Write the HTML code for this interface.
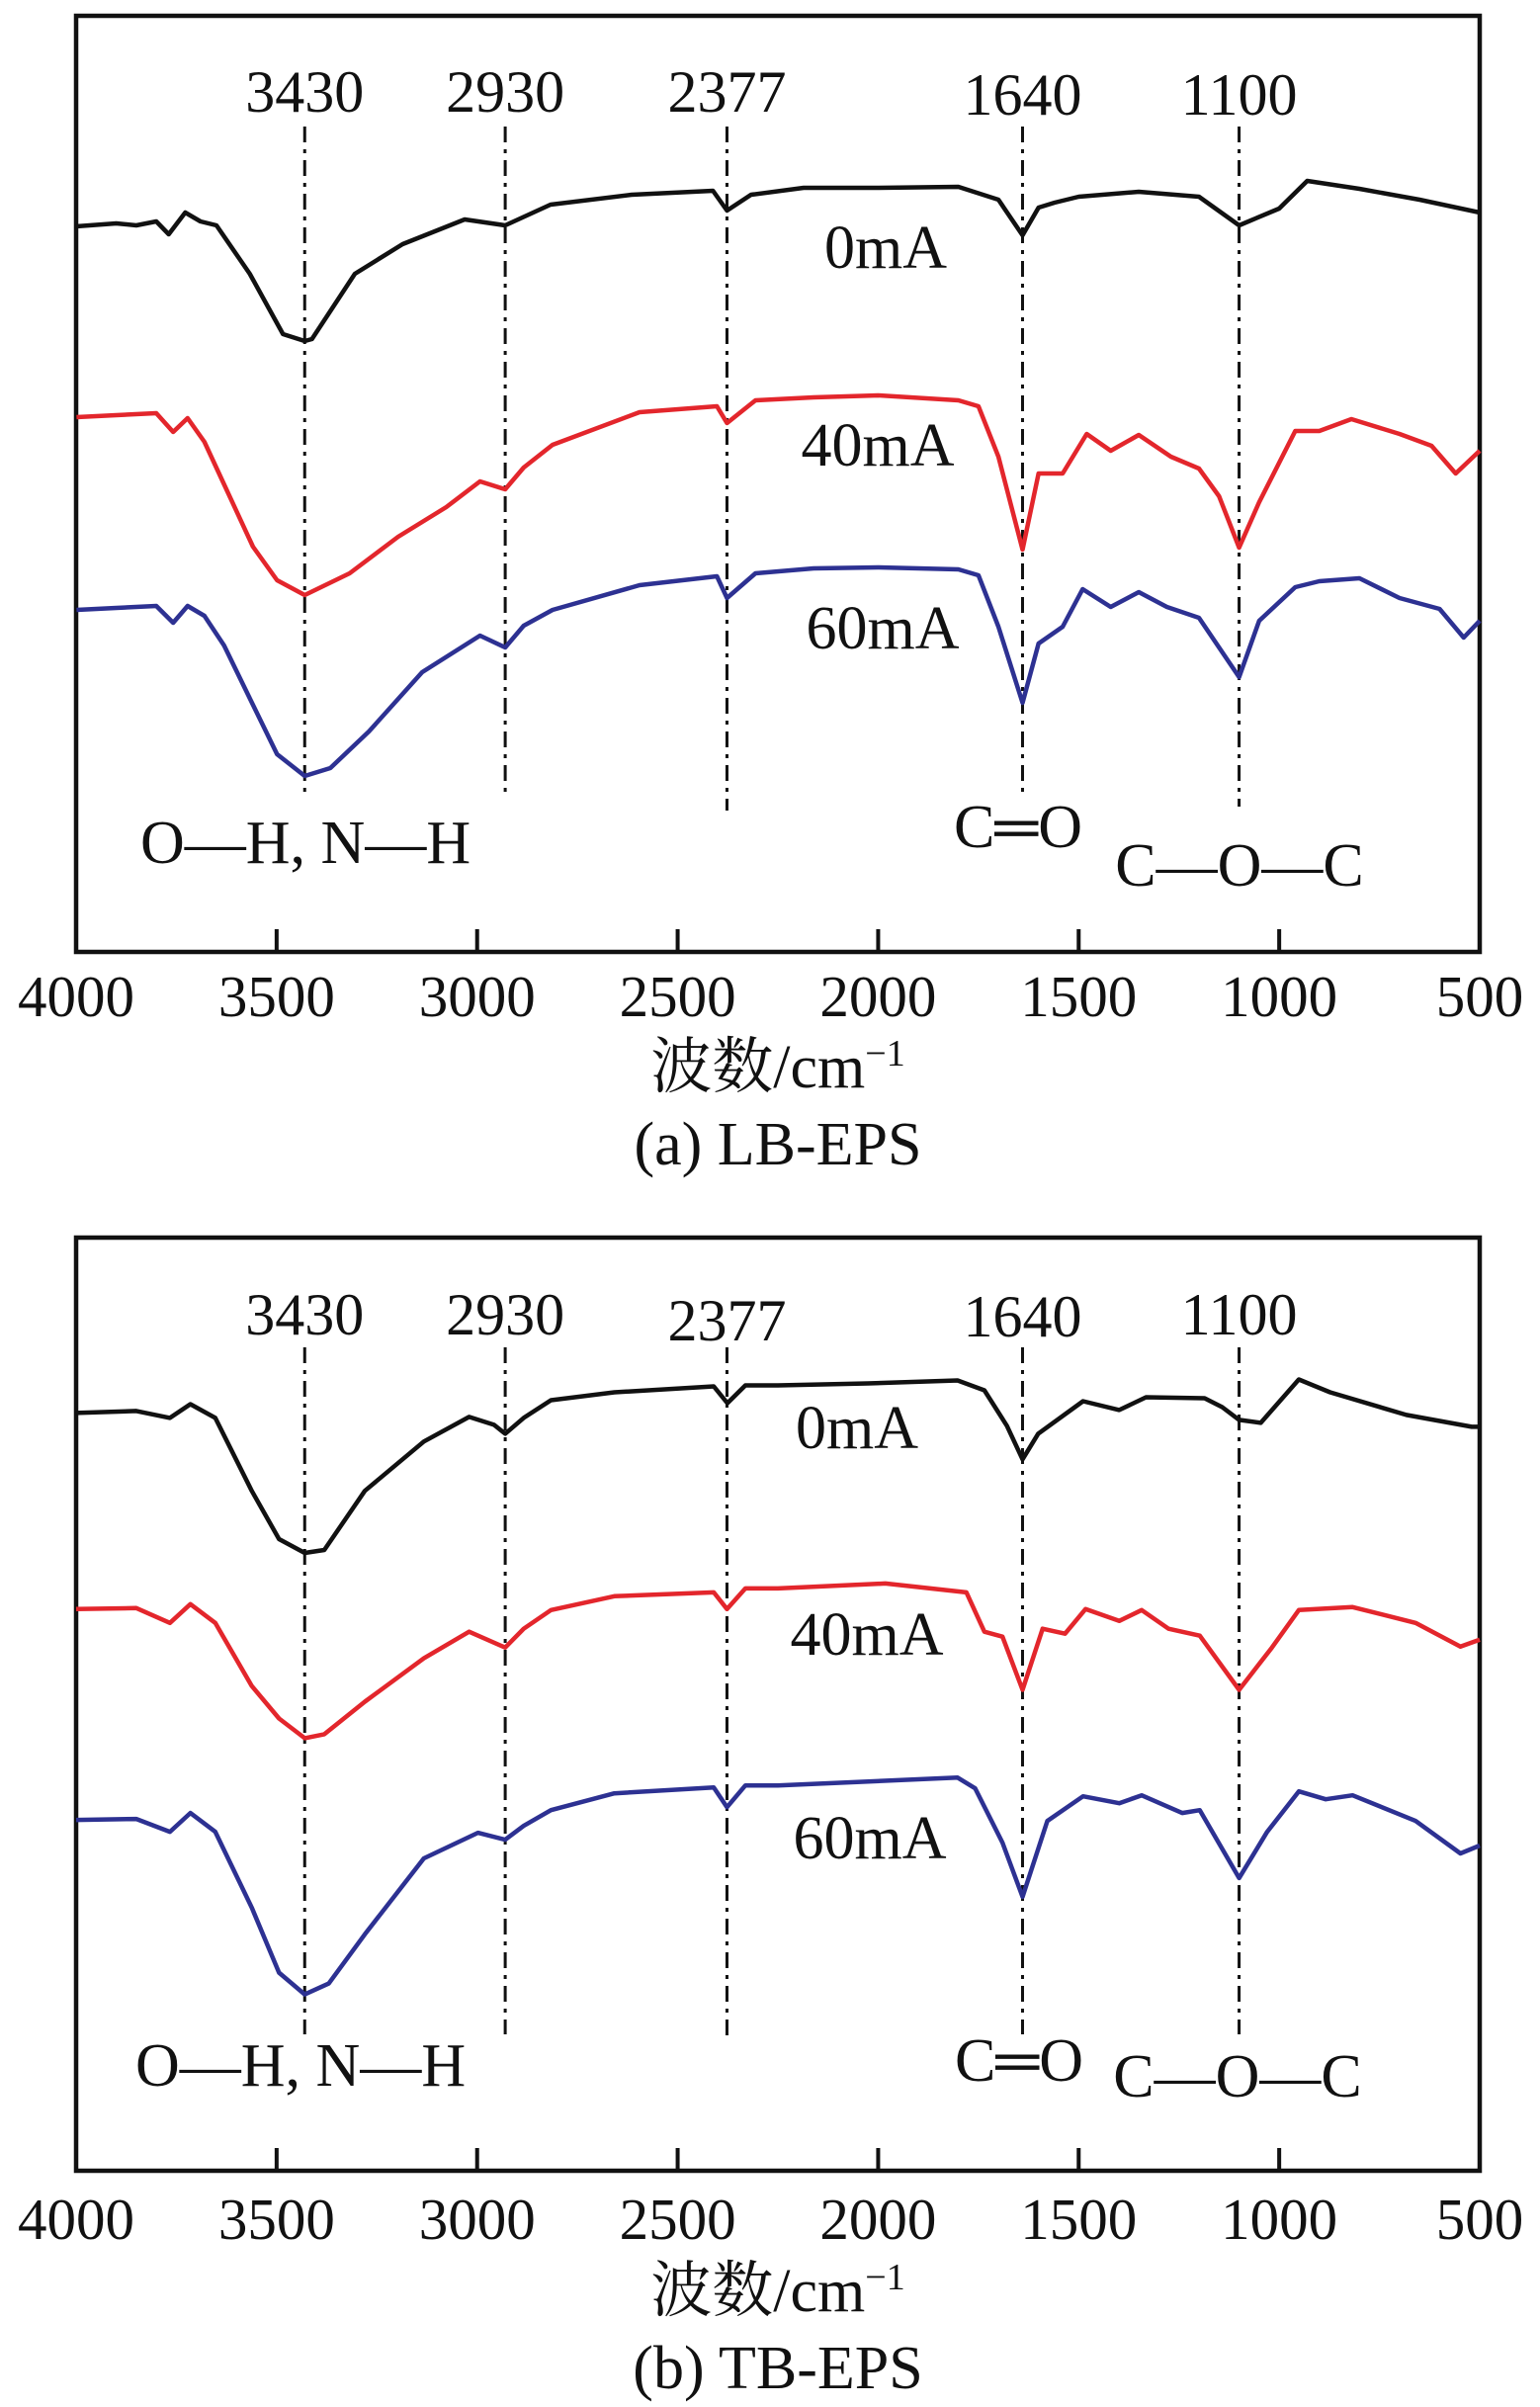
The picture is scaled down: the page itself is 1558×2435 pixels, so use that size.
<!DOCTYPE html>
<html><head><meta charset="utf-8"><style>
html,body{margin:0;padding:0;background:#fff;}
svg{display:block;}
text{font-family:"Liberation Serif","Noto Serif CJK SC",serif;fill:#111;}
</style></head><body>
<svg id="fig" width="1558" height="2435" viewBox="0 0 1558 2435" xmlns="http://www.w3.org/2000/svg"></svg>
<script>
// ---- data ----
const tickLabels = [4000,3500,3000,2500,2000,1500,1000,500];
const peakWavenumbers = [3430,2930,2377,1640,1100];
const currentLabels = ["0mA","40mA","60mA"];

const aBlackW=[4000,3900,3850,3800,3769,3728,3690,3650,3567,3484,3430,3412,3305,3186,3031,2930,2817,2615,2412,2377,2317,2186,2000,1800,1700,1640,1600,1560,1500,1350,1200,1100,1000,930,800,650,500];
const aBlackV=[213,210,212,208,221,199,208,212,261,322,329,327,261,231,206,212,191,181,177,197,181,174,174,173,186,222,194,189,183,178,183,212,195,167,175,186,199];
const aRedW=[3999,3900,3800,3758,3722,3680,3631,3559,3499,3430,3318,3197,3077,2993,2930,2884,2812,2595,2402,2377,2306,2161,2000,1800,1750,1700,1640,1600,1540,1480,1420,1350,1270,1200,1150,1100,1050,960,900,820,700,620,560,500];
const aRedV=[406,404,402,421,407,431,474,537,571,586,564,527,497,471,479,457,434,401,395,412,389,386,384,389,395,446,540,463,463,423,440,424,446,458,486,538,492,420,420,408,423,435,463,440];
const aBlueW=[3999,3900,3800,3758,3722,3680,3631,3559,3499,3430,3366,3270,3137,2993,2930,2884,2812,2595,2402,2377,2306,2161,2000,1800,1750,1700,1640,1600,1540,1490,1420,1350,1280,1200,1100,1050,960,900,800,700,600,540,500];
const aBlueV=[601,599,597,614,597,607,637,697,747,769,761,724,664,627,639,617,601,576,567,589,564,559,558,560,566,618,695,635,618,580,598,583,598,609,669,612,578,572,569,589,600,629,612];

const bBlackW=[4000,3850,3766,3715,3653,3562,3494,3430,3381,3280,3133,3020,2958,2930,2884,2816,2658,2410,2376,2331,2250,2026,1802,1735,1679,1640,1601,1489,1399,1332,1186,1142,1100,1046,951,873,683,520,500];
const bBlackV=[178,176,183,169,183,257,306,320,317,257,207,182,190,199,183,165,157,151,168,150,150,148,145,155,191,225,199,166,175,162,163,172,185,188,144,157,180,192,192];
const bRedW=[4000,3850,3766,3715,3653,3562,3494,3430,3381,3280,3133,3020,2930,2884,2816,2658,2410,2377,2331,2250,1982,1780,1735,1690,1640,1590,1534,1483,1399,1343,1276,1198,1100,1018,951,817,660,548,500];
const bRedV=[377,376,391,372,391,455,488,508,504,471,427,400,416,397,378,364,360,377,356,356,351,360,400,405,459,397,402,377,389,378,397,404,459,416,378,375,391,415,408];
const bBlueW=[4000,3850,3766,3715,3653,3562,3494,3430,3370,3280,3133,2998,2930,2884,2816,2658,2410,2377,2331,2250,1802,1758,1690,1640,1578,1489,1399,1343,1242,1198,1100,1030,951,884,817,660,548,500];
const bBlueV=[591,590,603,584,603,680,746,768,757,707,630,604,611,597,581,564,558,578,556,556,548,559,614,669,592,567,574,566,584,581,650,603,562,570,566,592,625,617];

const NS="http://www.w3.org/2000/svg";
const svg=document.getElementById('fig');
function mk(tag,attrs,parent){const e=document.createElementNS(NS,tag);for(const k in attrs)e.setAttribute(k,attrs[k]);(parent||svg).appendChild(e);return e;}

const L=77,R=1497;
function xScale(w){return L+(4000-w)*(R-L)/3500;}

const panels=[
 {id:'a',top:16,bottom:963,caption:'(a) LB-EPS',capY:1178,titleY:1100,tickY:1028,
  peakY:[113,113,113,116,116],dashTop:128,dashBot:[803,803,820,805,816],
  labels:[[896,271],[888,471],[893,656]],oh:[142,873],co:[1030,857],coc:[1254,896],
  series:[[aBlackW,aBlackV,'#111111'],[aRedW,aRedV,'#e3262c'],[aBlueW,aBlueV,'#2d3192']]},
 {id:'b',top:1252,bottom:2196,caption:'(b) TB-EPS',capY:2416,titleY:2338,tickY:2265,
  peakY:[1350,1350,1356,1352,1350],dashTop:1363,dashBot:[2058,2058,2062,2058,2058],
  labels:[[867,1465],[877,1674],[880,1880]],oh:[137,2110],co:[1031,2105],coc:[1252,2121],
  series:[[bBlackW,bBlackV,'#111111'],[bRedW,bRedV,'#e3262c'],[bBlueW,bBlueV,'#2d3192']]}
];

panels.forEach(p=>{
  const g=mk('g',{});
  
  
  const H=p.bottom-p.top;
  const yScale=v=>p.top+v*(H/947);
  const box=mk('rect',{x:L,y:p.top,width:R-L,height:H,fill:'none',stroke:'#111',"stroke-width":4.5},g);
  
  
  tickLabels.forEach(t=>{
    const x=xScale(t);
    if(t!==4000&&t!==500){
      const tk=mk('line',{x1:x,x2:x,y1:p.bottom,y2:p.bottom-23,stroke:'#111',"stroke-width":4},g);
      
      
    }
    const tl=mk('text',{x:x,y:p.tickY,"font-size":59,"text-anchor":"middle"},g);
    tl.textContent=t;
    
    
  });
  peakWavenumbers.forEach((w,i)=>{
    const x=xScale(w);
    const dl=mk('line',{x1:x,x2:x,y1:p.dashTop,y2:p.dashBot[i],stroke:'#111',"stroke-width":3,"stroke-dasharray":"16 7 4 7"},g);
    
    
    const pl=mk('text',{x:x,y:p.peakY[i],"font-size":60,"text-anchor":"middle"},g);
    pl.textContent=w;
    
    
  });
  p.series.forEach((s,i)=>{
    const [W,V,c]=s;
    let d='';
    W.forEach((w,j)=>{d+=(j?'L':'M')+xScale(w).toFixed(1)+' '+yScale(V[j]).toFixed(1);});
    const path=mk('path',{d:d,fill:'none',stroke:c,"stroke-width":4.5,"stroke-linejoin":"round"},g);
    
    
    const lb=mk('text',{x:p.labels[i][0],y:p.labels[i][1],"font-size":62,"text-anchor":"middle"},g);
    lb.textContent=currentLabels[i];
    
    
  });
  const oh=mk('text',{x:p.oh[0],y:p.oh[1],"font-size":62},g);
  oh.textContent='O—H, N—H';
  
  
  const co=mk('text',{x:p.co[0],y:p.co[1],"font-size":62,"text-anchor":"middle"},g);
  co.textContent='C═O';
  
  
  const coc=mk('text',{x:p.coc[0],y:p.coc[1],"font-size":62,"text-anchor":"middle"},g);
  coc.textContent='C—O—C';
  
  
  const xt=mk('text',{x:787,y:p.titleY,"font-size":62,"text-anchor":"middle"},g);
  xt.innerHTML='波数/cm<tspan dy="-22" font-size="38">−1</tspan>';
  
  
  const cap=mk('text',{x:787,y:p.capY,"font-size":62,"text-anchor":"middle"},g);
  cap.textContent=p.caption;
  
  
});
</script>
</body></html>
